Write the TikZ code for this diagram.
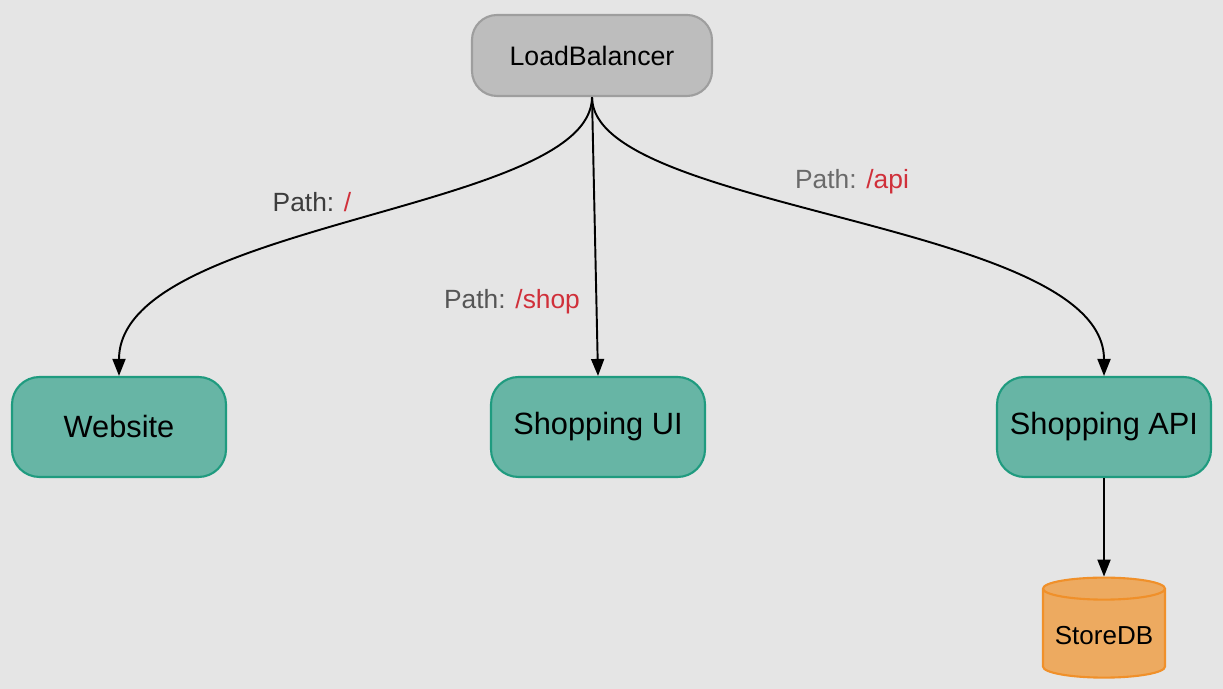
\documentclass[tikz,border=0pt]{standalone}
\usepackage{fontspec}
\setmainfont{Liberation Sans}
\usetikzlibrary{shapes.geometric,arrows.meta}

\definecolor{bg}{HTML}{E5E5E5}
\definecolor{lbfill}{HTML}{BDBDBD}
\definecolor{lbline}{HTML}{9E9E9E}
\definecolor{svcfill}{HTML}{67B5A5}
\definecolor{svcline}{HTML}{1F9B7F}
\definecolor{dbfill}{HTML}{EDAA60}
\definecolor{dbline}{HTML}{F0902A}
\definecolor{pathred}{HTML}{D0303A}

\tikzset{
  svc/.style={draw=svcline, fill=svcfill, line width=1.2pt, rounded corners=0.55cm,
    minimum width=4.28cm, minimum height=2cm, font=\fontsize{17.5}{20}\selectfont},
  link/.style={line width=1.1pt, -{Triangle[length=0.34cm, width=0.26cm]}},
  pathlbl/.style={font=\fontsize{15}{18}\selectfont}
}

\begin{document}
\begin{tikzpicture}
\fill[bg] (0,0) rectangle (24.46,13.78);
\useasboundingbox (0,0) rectangle (24.46,13.78);

\node[draw=lbline, fill=lbfill, line width=1.2pt, rounded corners=0.5cm, minimum width=4.8cm,
  minimum height=1.62cm, font=\fontsize{15.2}{18}\selectfont] at (11.84,12.67) (lb) {LoadBalancer};
\node[svc] at (2.38,5.24) (web) {Website};
\node[svc] at (11.96,5.24) (ui) {Shopping UI};
\node[svc] at (22.08,5.24) (api) {Shopping API};
\node[draw=dbline, fill=dbfill, line width=1.2pt, cylinder, shape border rotate=90, aspect=0.2,
  minimum width=2.44cm, minimum height=2cm, font=\fontsize{14.8}{17}\selectfont]
  at (22.08,1.06) (db) {StoreDB};

\draw[link] (lb.south) .. controls +(0,-2.3) and +(0,3.1) .. (web.north);
\draw[link] (lb.south) -- (ui.north);
\draw[link] (lb.south) .. controls +(0,-2.3) and +(0,3.1) .. (api.north);
\draw[link] (api.south) -- (db.top);

\node[pathlbl] at (6.24,9.74) (p1) {\textcolor[HTML]{3C3C3C}{Path:} \textcolor{pathred}{/}};
\node[pathlbl] at (10.24,7.74) (p2) {\textcolor[HTML]{555555}{Path:} \textcolor{pathred}{/shop}};
\node[pathlbl] at (17.04,10.14) (p3) {\textcolor[HTML]{6A6A6A}{Path:} \textcolor{pathred}{/api}};
\end{tikzpicture}
\end{document}
